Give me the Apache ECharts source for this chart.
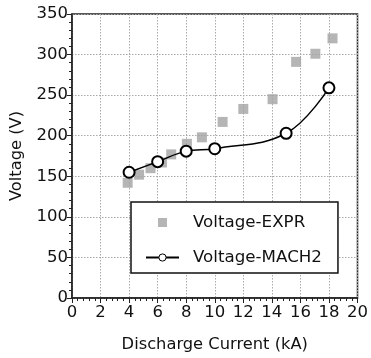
<!DOCTYPE html>
<html><head><meta charset="utf-8">
<script src="https://cdn.jsdelivr.net/npm/echarts@6/dist/echarts.min.js"></script>
<style>html,body{margin:0;padding:0;background:#fff}#c{width:371px;height:358px}</style>
</head><body><div id="c"></div>
<script>
const exprCurrent = [3.9, 4.7, 5.5, 6.3, 6.95, 8.05, 9.1, 10.55, 12.0, 14.05, 15.7, 17.05, 18.25];
const exprVoltage = [142, 152, 160, 167, 177, 190, 198, 217, 233, 245, 291, 301, 320];
const machCurrent = [4, 6, 8, 10, 15, 18];
const machVoltage = [155, 168, 181, 184, 203, 259];
const xTicks = {min: 0, max: 20, interval: 2};
const yTicks = {min: 0, max: 350, interval: 50};

const font = '"DejaVu Sans", sans-serif';
const chart = echarts.init(document.getElementById('c'));
chart.setOption({
  animation: false,
  grid: {left: 72, right: 10, top: 14, bottom: 59, show: true, borderColor: '#222', borderWidth: 1.5, backgroundColor: 'transparent'},
  xAxis: {
    type: 'value', min: xTicks.min, max: xTicks.max, interval: xTicks.interval,
    name: 'Discharge Current (kA)', nameLocation: 'middle', nameGap: 39,
    nameTextStyle: {fontFamily: font, fontSize: 16.3, color: '#111'},
    axisLine: {onZero: false, lineStyle: {color: '#222', width: 1.5}},
    axisTick: {inside: false, length: 5, lineStyle: {color: '#222'}},
    minorTick: {show: true, splitNumber: 5, length: 3, lineStyle: {color: '#222'}},
    axisLabel: {fontFamily: font, fontSize: 16.5, color: '#111', margin: 6},
    splitLine: {show: true, lineStyle: {color: '#aaa', type: [1.5, 1.5], width: 1}}
  },
  yAxis: {
    type: 'value', min: yTicks.min, max: yTicks.max, interval: yTicks.interval,
    name: 'Voltage (V)', nameLocation: 'middle', nameGap: 47,
    nameTextStyle: {fontFamily: font, fontSize: 16.3, color: '#111'},
    axisLine: {show: true, onZero: false, lineStyle: {color: '#222', width: 1.5}},
    axisTick: {show: true, inside: false, length: 5, lineStyle: {color: '#222'}},
    minorTick: {show: true, splitNumber: 5, length: 3, lineStyle: {color: '#222'}},
    axisLabel: {fontFamily: font, fontSize: 16.5, color: '#111', margin: 4},
    splitLine: {show: true, lineStyle: {color: '#aaa', type: [1.5, 1.5], width: 1}}
  },
  legend: {
    orient: 'vertical', left: 131, top: 202,
    backgroundColor: '#fff', borderColor: '#111', borderWidth: 1.5,
    padding: [12, 16, 7, 14], itemGap: 18, itemWidth: 33, itemHeight: 9,
    textStyle: {fontFamily: font, fontSize: 16.7, color: '#111', padding: [0, 0, 0, 9]},
    data: [
      {name: 'Voltage-EXPR', icon: 'path://M0,0M33,9M12,0h9v9h-9z'},
      {name: 'Voltage-MACH2', itemStyle: {borderWidth: 1}}
    ]
  },
  series: [
    {
      name: 'Voltage-EXPR', type: 'scatter', symbol: 'rect', symbolSize: 10,
      itemStyle: {color: '#a3a3a3'},
      data: exprCurrent.map((x, i) => [x, exprVoltage[i]]), z: 2
    },
    {
      name: 'Voltage-MACH2', type: 'line', smooth: 0.4,
      symbol: 'circle', symbolSize: 11, showAllSymbol: true,
      itemStyle: {color: '#fff', borderColor: '#000', borderWidth: 2},
      lineStyle: {color: '#000', width: 1.5},
      data: machCurrent.map((x, i) => [x, machVoltage[i]]), z: 3
    }
  ]
});
</script></body></html>
